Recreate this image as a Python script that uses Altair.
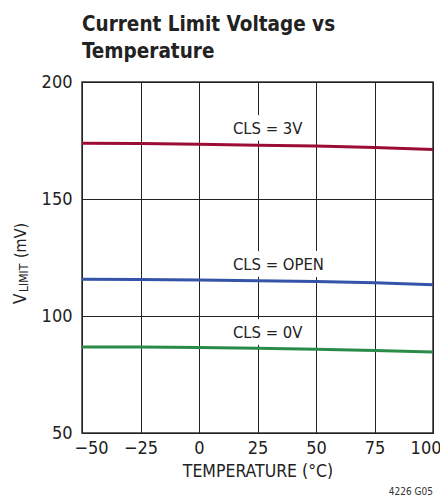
import altair as alt
import pandas as pd

# ---- data ----
temps = [-50, -25, 0, 25, 50, 75, 100]
v_3v = [173.8, 173.7, 173.4, 173.0, 172.6, 172.0, 171.2]
v_open = [115.7, 115.6, 115.4, 115.1, 114.7, 114.2, 113.4]
v_0v = [86.8, 86.7, 86.5, 86.2, 85.8, 85.3, 84.6]
series_names = ["CLS = 3V", "CLS = OPEN", "CLS = 0V"]
series_colors = ["#9b0d35", "#3553a8", "#2a8c48"]

label_text = ["CLS = 3V", "CLS = OPEN", "CLS = 0V"]
label_temp = [14.5, 14.5, 14.5]
label_v = [177.8, 119.7, 90.6]

x_ticks = [-50, -25, 0, 25, 50, 75, 100]
y_ticks = [50, 100, 150, 200]

title_lines = "Current Limit Voltage vs\nTemperature"
x_title = "TEMPERATURE (°C)"
footnote = "4226 G05"

FONT = "DejaVu Sans Condensed, Liberation Sans Narrow, sans-serif"

rows = []
for name, vals in zip(series_names, [v_3v, v_open, v_0v]):
    for t, v in zip(temps, vals):
        rows.append({"series": name, "temp": t, "v": v})
df = pd.DataFrame(rows)
labels = pd.DataFrame({"text": label_text, "temp": label_temp, "v": label_v})
one = pd.DataFrame({"k": [0]})

xscale = alt.Scale(domain=[-50, 100], nice=False, zero=False)
yscale = alt.Scale(domain=[50, 200], nice=False, zero=False)

xaxis = alt.Axis(values=x_ticks, title=x_title, grid=True, gridColor="#222",
                 gridWidth=1, ticks=False, domain=False, labelFontSize=18,
                 labelFont=FONT, labelColor="#222", labelPadding=6,
                 labelFlush=True, labelFlushOffset=8,
                 titleFont=FONT, titleFontSize=17.5, titleFontWeight="normal",
                 titleColor="#222", titlePadding=5,
                 labelOverlap=False)
yaxis = alt.Axis(values=y_ticks, title=None, grid=True, gridColor="#222",
                 gridWidth=1, ticks=False, domain=False, labelFontSize=18,
                 labelFont=FONT, labelColor="#222", labelPadding=10,
                 labelFlush=False, labelOverlap=False)

lines = alt.Chart(df).mark_line(strokeWidth=3).encode(
    x=alt.X("temp:Q", scale=xscale, axis=xaxis),
    y=alt.Y("v:Q", scale=yscale, axis=yaxis),
    color=alt.Color("series:N", scale=alt.Scale(domain=series_names, range=series_colors), legend=None),
    detail="series:N",
)

label_bg = alt.Chart(labels).mark_text(
    align="left", baseline="alphabetic", fontSize=16.5, font=FONT,
    stroke="white", strokeWidth=14, fill="white", strokeJoin="round",
).encode(x=alt.X("temp:Q", scale=xscale), y=alt.Y("v:Q", scale=yscale), text="text:N")

label_fg = alt.Chart(labels).mark_text(
    align="left", baseline="alphabetic", fontSize=16.5, font=FONT, color="#222",
).encode(x=alt.X("temp:Q", scale=xscale), y=alt.Y("v:Q", scale=yscale), text="text:N")

title = alt.Chart(one).mark_text(
    align="left", baseline="alphabetic", fontSize=20.5, fontWeight="bold",
    font=FONT, color="#222", lineBreak="\n", lineHeight=27,
).encode(x=alt.value(0), y=alt.value(-51), text=alt.value(title_lines))

yt_v = alt.Chart(one).mark_text(
    align="left", baseline="alphabetic", angle=270, fontSize=17, font=FONT, color="#222",
).encode(x=alt.value(-56), y=alt.value(222), text=alt.value("V"))
yt_sub = alt.Chart(one).mark_text(
    align="left", baseline="alphabetic", angle=270, fontSize=12, font=FONT, color="#222",
).encode(x=alt.value(-54), y=alt.value(210), text=alt.value("LIMIT"))
yt_mv = alt.Chart(one).mark_text(
    align="left", baseline="alphabetic", angle=270, fontSize=16, font=FONT, color="#222",
).encode(x=alt.value(-56), y=alt.value(176), text=alt.value("(mV)"))

foot = alt.Chart(one).mark_text(
    align="right", baseline="alphabetic", fontSize=10, font=FONT, color="#333",
).encode(x=alt.value(351), y=alt.value(413), text=alt.value(footnote))

chart = alt.layer(
    label_bg, lines, label_fg, title, yt_v, yt_sub, yt_mv, foot
).properties(
    width=351, height=351,
    autosize=alt.AutoSizeParams(type="none"),
    padding={"left": 74, "top": 74, "right": 7, "bottom": 63},
).configure_view(
    stroke="#333", strokeWidth=1.5
)

chart.save("out.html", embed_options={"renderer": "svg", "actions": False})
